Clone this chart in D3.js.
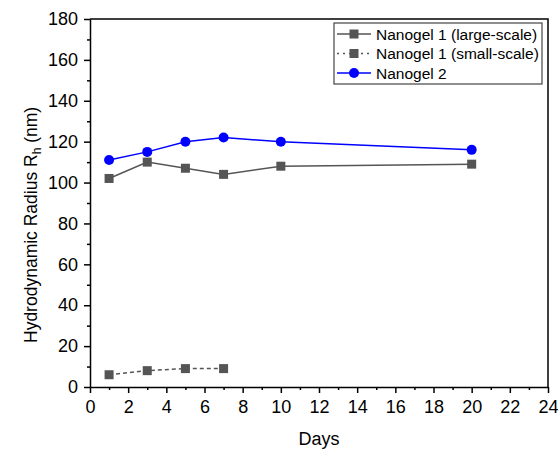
<!DOCTYPE html>
<html>
<head>
<meta charset="utf-8">
<script src="https://cdn.jsdelivr.net/npm/d3@7"></script>
<style>
  body { margin: 0; background: #fff; }
  text { font-family: "Liberation Sans", Arial, sans-serif; fill: #000; }
</style>
</head>
<body>
<svg id="chart" width="558" height="450"></svg>
<script>
const days = [1, 3, 5, 7, 10, 20];
const daysSmall = [1, 3, 5, 7];
const largeScale = [102, 110, 107, 104, 108, 109];
const smallScale = [6, 8, 9, 9];
const nanogel2 = [111, 115, 120, 122, 120, 116];
const xTicks = [0, 2, 4, 6, 8, 10, 12, 14, 16, 18, 20, 22, 24];
const yTicks = [0, 20, 40, 60, 80, 100, 120, 140, 160, 180];
const seriesNames = ["Nanogel 1 (large-scale)", "Nanogel 1 (small-scale)", "Nanogel 2"];

const margin = { top: 19, right: 10, bottom: 63, left: 90 };
const width = 558 - margin.left - margin.right;
const height = 450 - margin.top - margin.bottom;

const svg = d3.select("#chart");
const g = svg.append("g").attr("transform", `translate(${margin.left},${margin.top})`);

const x = d3.scaleLinear().domain([0, 24]).range([0, width]);
const y = d3.scaleLinear().domain([0, 180]).range([height, 0]);

// minor ticks
g.append("g")
  .attr("transform", `translate(0,${height})`)
  .call(d3.axisBottom(x).tickValues(d3.range(1, 24, 2)).tickSize(3).tickFormat(""))
  .call((s) => s.select(".domain").remove())
  .selectAll("line").attr("stroke-width", 1.5);
g.append("g")
  .call(d3.axisLeft(y).tickValues(d3.range(10, 180, 20)).tickSize(3).tickFormat(""))
  .call((s) => s.select(".domain").remove())
  .selectAll("line").attr("stroke-width", 1.5);

// major axes
const xAxis = g.append("g")
  .attr("transform", `translate(0,${height})`)
  .call(d3.axisBottom(x).tickValues(xTicks).tickSize(6).tickSizeOuter(0).tickPadding(7));
const yAxis = g.append("g")
  .call(d3.axisLeft(y).tickValues(yTicks).tickSize(6).tickSizeOuter(0).tickPadding(6));
[xAxis, yAxis].forEach((a) => {
  a.select(".domain").attr("stroke-width", 1.5);
  a.selectAll("line").attr("stroke-width", 1.5);
  a.selectAll("text").style("font-size", "18px").style("font-family", "Liberation Sans, Arial, sans-serif");
});

// top and right frame
g.append("path")
  .attr("d", `M0,0H${width}V${height}`)
  .attr("fill", "none").attr("stroke", "#000").attr("stroke-width", 1.5);

// axis titles
svg.append("text")
  .attr("x", 319)
  .attr("y", 445)
  .attr("text-anchor", "middle")
  .style("font-size", "18px")
  .text("Days");

// y title: anchored at its start (bottom end, ~y=343 in the reference)
const yt = svg.append("text")
  .attr("transform", "translate(37,343) rotate(-90)")
  .style("font-size", "17.5px");
yt.append("tspan").text("Hydrodynamic Radius R");
yt.append("tspan").attr("dy", 4).style("font-size", "12px").text("h");
yt.append("tspan").attr("dy", -4).text(" (nm)");

const gray = "#555555";
const blue = "#0000ff";
const line = d3.line().x((d) => x(d[0])).y((d) => y(d[1]));

const series = [
  { xs: days, ys: largeScale, color: gray, dash: null, marker: "square" },
  { xs: daysSmall, ys: smallScale, color: gray, dash: "4,3", marker: "square" },
  { xs: days, ys: nanogel2, color: blue, dash: null, marker: "circle" },
];

function drawMarker(sel, type, color) {
  if (type === "square") {
    sel.append("rect").attr("x", -4.5).attr("y", -4.5).attr("width", 9).attr("height", 9).attr("fill", color);
  } else {
    sel.append("circle").attr("r", 5).attr("fill", color);
  }
}

series.forEach((s) => {
  const pts = s.xs.map((d, i) => [d, s.ys[i]]);
  g.append("path")
    .datum(pts)
    .attr("d", line)
    .attr("fill", "none")
    .attr("stroke", s.color)
    .attr("stroke-width", 1.5)
    .attr("stroke-dasharray", s.dash);
  g.selectAll(null)
    .data(pts)
    .enter()
    .append("g")
    .attr("transform", (d) => `translate(${x(d[0])},${y(d[1])})`)
    .each(function () { drawMarker(d3.select(this), s.marker, s.color); });
});

// legend
const lg = svg.append("g").attr("transform", "translate(334,23)");
lg.append("rect").attr("width", 208).attr("height", 61)
  .attr("fill", "#fff").attr("stroke", "#444").attr("stroke-width", 1.2);
series.forEach((s, i) => {
  const row = lg.append("g").attr("transform", `translate(0,${11 + i * 19.5})`);
  row.append("line").attr("x1", 3).attr("x2", 37).attr("y1", 0).attr("y2", 0)
    .attr("stroke", s.color).attr("stroke-width", 1.5)
    .attr("stroke-dasharray", s.dash ? "2,4" : null);
  const m = row.append("g").attr("transform", "translate(20,0)");
  drawMarker(m, s.marker, s.color);
  row.append("text").attr("x", 42).attr("y", 5.5).style("font-size", "15.5px").text(seriesNames[i]);
});
</script>
</body>
</html>
